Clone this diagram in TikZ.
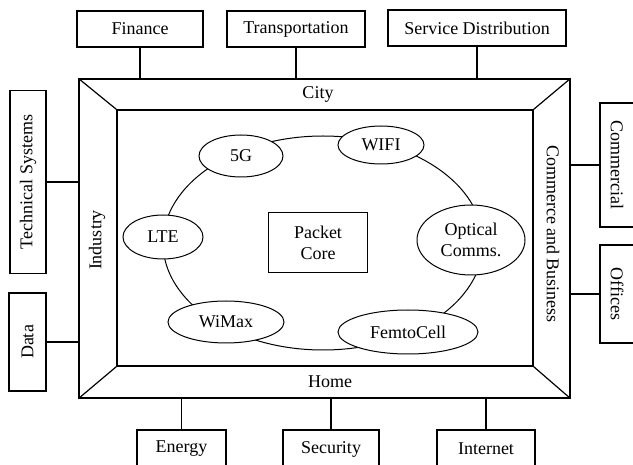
\documentclass[tikz,border=0pt]{standalone}
\usepackage{fontspec}
\setmainfont{Liberation Serif}
\usetikzlibrary{shapes.geometric}
\tikzset{
  box/.style={draw, line width=1.2pt, inner sep=0pt, align=center, font=\fontsize{18}{21}\selectfont},
  oval/.style={ellipse, draw, fill=white, line width=1pt, inner sep=0pt, align=center, font=\fontsize{18}{21}\selectfont},
  lbl/.style={inner sep=0pt, font=\fontsize{18}{21}\selectfont},
  wire/.style={line width=1.2pt},
  framestyle/.style={draw, line width=1.3pt, inner sep=0pt}
}
\begin{document}
\begin{tikzpicture}[x=1pt, y=-1pt]
\useasboundingbox (0,0) rectangle (633,465);
\fill[white] (0,0) rectangle (633,465);
\clip (0,0) rectangle (633,465);

% frame
\node[framestyle, minimum width=491pt, minimum height=319pt] (frame) at (324.5,238.5) {};
\node[framestyle, minimum width=416pt, minimum height=256pt] (inner) at (325,238) {};
\draw[wire] (frame.north west) -- (inner.north west);
\draw[wire] (frame.north east) -- (inner.north east);
\draw[wire] (frame.south west) -- (inner.south west);
\draw[wire] (frame.south east) -- (inner.south east);

\node[lbl] (city) at (318,94) {City};
\node[lbl] (home) at (330,382) {Home};
\node[lbl, rotate=90] (industry) at (97,240) {Industry};
\node[lbl, rotate=-90] (commerce) at (553,234) {Commerce and Business};

% top boxes
\node[box, minimum width=126pt, minimum height=36pt] (finance) at (140,29) {Finance};
\node[box, minimum width=138pt, minimum height=36pt] (transport) at (296,29) {Transportation};
\node[box, minimum width=178pt, minimum height=36pt] (service) at (477,28) {Service Distribution};
\draw[wire] (finance.south) -- (finance.south |- frame.north);
\draw[wire] (transport.south) -- (transport.south |- frame.north);
\draw[wire] (service.south) -- (service.south |- frame.north);

% left boxes
\node[box, rotate=90, minimum width=183pt, minimum height=36pt] (tech) at (28,182) {Technical Systems};
\node[box, rotate=90, minimum width=98pt, minimum height=37pt] (data) at (27.5,342) {Data};
\draw[wire] (tech.south) -- (tech.south -| frame.west);
\draw[wire] (data.south) -- (data.south -| frame.west);

% right boxes
\node[box, rotate=-90, minimum width=124pt, minimum height=34pt] (commercial) at (617,165) {Commercial};
\node[box, rotate=-90, minimum width=98pt, minimum height=34pt] (offices) at (617,294) {Offices};
\draw[wire] (commercial.south) -- (commercial.south -| frame.east);
\draw[wire] (offices.south) -- (offices.south -| frame.east);

% bottom boxes
\node[box, minimum width=89pt, minimum height=38pt] (energy) at (181.5,449) {Energy};
\node[box, minimum width=96pt, minimum height=38pt] (security) at (331,449) {Security};
\node[box, minimum width=98pt, minimum height=38pt] (internet) at (486,449) {Internet};
\draw[wire] (energy.north) -- (energy.north |- frame.south);
\draw[wire] (security.north) -- (security.north |- frame.south);
\draw[wire] (internet.north) -- (internet.north |- frame.south);

% ring
\node[ellipse, draw, line width=1pt, minimum width=320pt, minimum height=214pt, inner sep=0pt] (ring) at (323,243) {};
\node[oval, minimum width=84pt, minimum height=42pt] (g5) at (241,156) {5G};
\node[oval, minimum width=86pt, minimum height=38pt] (wifi) at (381,145) {WIFI};
\node[oval, minimum width=80pt, minimum height=44pt] (lte) at (163,237) {LTE};
\node[oval, minimum width=108pt, minimum height=70pt] (optical) at (471,240) {Optical\\Comms.};
\node[oval, minimum width=116pt, minimum height=42pt] (wimax) at (226,322) {WiMax};
\node[oval, minimum width=140pt, minimum height=44pt] (femto) at (408,332) {FemtoCell};
\node[box, line width=1pt, minimum width=99pt, minimum height=60pt] (core) at (318,243) {Packet\\Core};
\end{tikzpicture}
\end{document}
